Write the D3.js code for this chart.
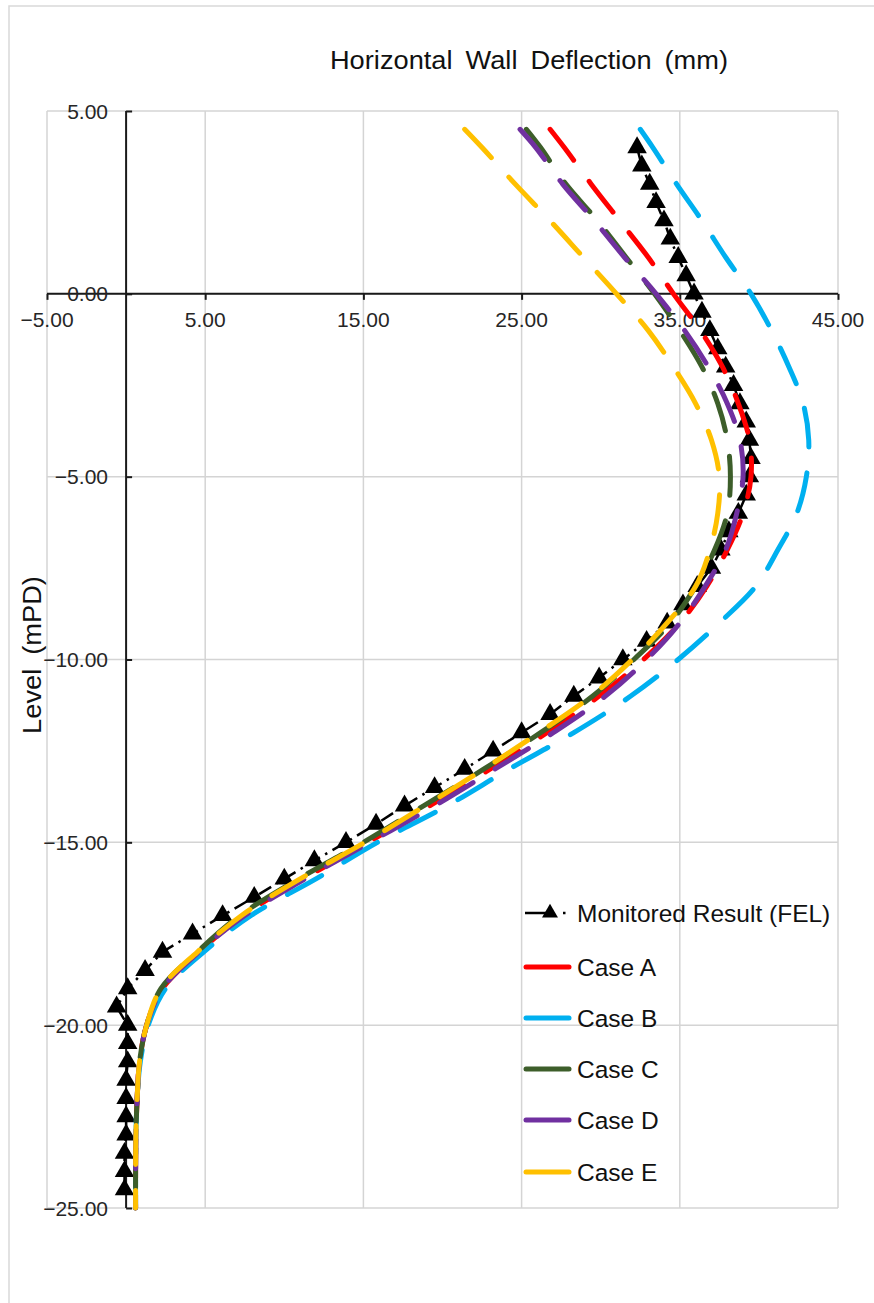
<!DOCTYPE html>
<html>
<head>
<meta charset="utf-8">
<script src="https://cdn.jsdelivr.net/npm/d3@7"></script>
<style>
  html, body { margin: 0; padding: 0; background: #fff; }
  svg { display: block; font-family: "Liberation Sans", Arial, sans-serif; }
</style>
</head>
<body>
<svg id="chart" width="874" height="1303"></svg>
<script>
// Horizontal wall deflection (mm) against level (mPD)

// Tick values
const xTicks = [-5, 5, 15, 25, 35, 45];
const yTicks = [5, 0, -5, -10, -15, -20, -25];

// Monitored readings, every 0.5 m
const monitoredLevel = [4.0, 3.5, 3.0, 2.5, 2.0, 1.5, 1.0, 0.5, 0.0,
  -0.5, -1.0, -1.5, -2.0, -2.5, -3.0, -3.5, -4.0, -4.5, -5.0, -5.5, -6.0, -6.5, -7.0, -7.5, -8.0, -8.5, -9.0,
  -9.5, -10.0, -10.5, -11.0, -11.5, -12.0, -12.5, -13.0, -13.5, -14.0, -14.5, -15.0, -15.5, -16.0, -16.5,
  -17.0, -17.5, -18.0, -18.5, -19.0, -19.5,
  -20.0, -20.5, -21.0, -21.5, -22.0, -22.5, -23.0, -23.5, -24.0, -24.5];
const monitoredValue = [32.3, 32.6, 33.1, 33.5, 34.0, 34.4, 34.9, 35.4, 35.9,
  36.4, 36.9, 37.4, 37.9, 38.4, 38.8, 39.2, 39.4, 39.5, 39.4, 39.2, 38.7, 38.1, 37.6, 37.0, 36.1, 35.2, 34.2,
  32.9, 31.4, 29.9, 28.3, 26.8, 25.0, 23.2, 21.4, 19.5, 17.6, 15.8, 13.9, 11.9, 10.0, 8.1,
  6.1, 4.2, 2.3, 1.2, 0.1, -0.6,
  0.1, 0.1, 0.1, 0.0, 0.0, 0.0, 0.0, -0.1, -0.1, -0.1];

// Computed cases
const caseLevel = [4.5, 4, 3, 2, 1, 0, -1, -2, -3, -4, -5, -6, -7, -8, -9, -10, -11, -12,
  -13, -14, -15, -16, -17, -18, -19, -20, -21, -22, -23, -24, -25];
const caseA = [26.8, 27.7, 29.4, 31.2, 33.0, 34.6, 36.3, 37.7, 38.7, 39.4, 39.5, 39.0, 38.0, 36.7, 35.0, 32.7, 29.9, 26.6,
  23.0, 19.2, 15.3, 11.2, 7.4, 4.6, 2.3, 1.3, 0.85, 0.7, 0.62, 0.6, 0.6];
const caseB = [32.5, 33.3, 34.8, 36.4, 37.9, 39.5, 40.8, 41.9, 42.8, 43.15, 43.0, 42.4, 41.2, 39.8, 37.5, 34.9, 31.9, 28.3,
  24.2, 20.3, 15.9, 12.0, 7.9, 4.9, 2.5, 1.4, 0.9, 0.7, 0.62, 0.6, 0.6];
const caseC = [25.3, 26.2, 27.8, 29.8, 31.6, 33.4, 35.0, 36.4, 37.4, 38.0, 38.2, 38.0, 37.2, 36.0, 34.4, 32.1, 29.5, 26.2,
  22.6, 18.8, 15.0, 10.9, 7.2, 4.5, 2.2, 1.3, 0.85, 0.7, 0.62, 0.6, 0.6];
const caseD = [24.9, 25.9, 27.6, 29.6, 31.5, 33.5, 35.3, 36.8, 38.0, 38.8, 39.0, 38.6, 37.9, 36.6, 35.0, 32.9, 30.3, 27.0,
  23.3, 19.5, 15.4, 11.3, 7.5, 4.6, 2.3, 1.3, 0.85, 0.7, 0.62, 0.6, 0.6];
const caseE = [21.4, 22.5, 24.6, 26.8, 28.9, 31.0, 33.0, 34.6, 36.0, 37.0, 37.5, 37.4, 36.9, 36.0, 34.2, 32.0, 29.4, 26.1,
  22.6, 18.9, 15.1, 11.0, 7.3, 4.5, 2.2, 1.3, 0.85, 0.7, 0.62, 0.6, 0.6];

const caseNames = ["Case A", "Case B", "Case C", "Case D", "Case E"];
const caseValues = [caseA, caseB, caseC, caseD, caseE];
const caseColors = ["#ff0000", "#00b0f0", "#3d5e2a", "#7030a0", "#ffc000"];

const svg = d3.select("#chart");

// Chart frame
svg.append("rect")
  .attr("x", 9).attr("y", 6).attr("width", 900).attr("height", 1320)
  .attr("fill", "#fff").attr("stroke", "#d9d9d9").attr("stroke-width", 1.5);

const x = d3.scaleLinear().domain([-5, 45]).range([47, 838]);
const y = d3.scaleLinear().domain([-25, 5]).range([1208, 111]);

// Gridlines
const grid = svg.append("g").attr("stroke", "#d4d4d4").attr("stroke-width", 1.5);
grid.selectAll("line.gx").data(xTicks).join("line")
  .attr("x1", d => x(d)).attr("x2", d => x(d))
  .attr("y1", y(5)).attr("y2", y(-25));
grid.selectAll("line.gy").data(yTicks).join("line")
  .attr("x1", x(-5)).attr("x2", x(45))
  .attr("y1", d => y(d)).attr("y2", d => y(d));

// Axes crossing at the origin
const xAxis = d3.axisBottom(x).tickValues(xTicks).tickSize(6).tickFormat("");
const yAxis = d3.axisRight(y).tickValues(yTicks).tickSize(6).tickFormat("");
const gx = svg.append("g").attr("transform", `translate(0,${y(0)})`).call(xAxis);
const gy = svg.append("g").attr("transform", `translate(${x(0)},0)`).call(yAxis);
[gx, gy].forEach(g => {
  g.select(".domain").attr("stroke", "#1a1a1a").attr("stroke-width", 2);
  g.selectAll(".tick line").attr("stroke", "#1a1a1a").attr("stroke-width", 2);
});
gx.select(".domain").attr("d", `M${x(-5)},0H${x(45)}`);
gy.select(".domain").attr("d", `M0,${y(5)}V${y(-25)}`);

// Tick labels
const fmt = d3.format(".2f");
svg.append("g").selectAll("text").data(xTicks).join("text")
  .attr("x", d => x(d)).attr("y", y(0) + 33)
  .attr("text-anchor", "middle")
  .attr("font-size", 21).attr("fill", "#262626")
  .text(d => fmt(d));
svg.append("g").selectAll("text").data(yTicks).join("text")
  .attr("x", 108).attr("y", d => y(d))
  .attr("text-anchor", "end").attr("dominant-baseline", "central")
  .attr("font-size", 21).attr("fill", "#262626")
  .text(d => fmt(d));

// Titles
svg.append("g").attr("transform", "translate(529,69) scale(1.09,1)")
  .append("text")
  .attr("text-anchor", "middle").attr("font-size", 25).attr("word-spacing", 5)
  .attr("fill", "#111")
  .text("Horizontal Wall Deflection (mm)");
svg.append("g").attr("transform", "translate(41,655) rotate(-90) scale(1.09,1)")
  .append("text")
  .attr("text-anchor", "middle").attr("font-size", 25).attr("word-spacing", 6)
  .attr("fill", "#111")
  .text("Level (mPD)");

// Monitored result
const monitored = monitoredLevel.map((lv, i) => ({ lv, v: monitoredValue[i] }));
const mLine = d3.line().x(d => x(d.v)).y(d => y(d.lv));
const dashDot = "14,6,2.5,6";
svg.append("path").datum(monitored)
  .attr("d", mLine)
  .attr("fill", "none").attr("stroke", "#000").attr("stroke-width", 2.5)
  .attr("stroke-dasharray", dashDot);
const tri = d3.symbol().type(d3.symbolTriangle).size(165);
svg.append("g").selectAll("path").data(monitored).join("path")
  .attr("transform", d => `translate(${x(d.v)},${y(d.lv)})`)
  .attr("d", tri).attr("fill", "#000");

// Cases
const cLine = d3.line().curve(d3.curveCatmullRom.alpha(0.5))
  .x(d => x(d.v)).y(d => y(d.lv));
caseValues.forEach((vals, k) => {
  const pts = caseLevel.map((lv, i) => ({ lv, v: vals[i] }));
  svg.append("path").datum(pts)
    .attr("d", cLine)
    .attr("fill", "none").attr("stroke", caseColors[k]).attr("stroke-width", 5)
    .attr("stroke-linecap", "round")
    .attr("stroke-dasharray", "39,26");
});

// Legend
const lg = svg.append("g");
const rowY = [913, 967, 1018, 1069, 1120, 1172];
lg.append("line").attr("x1", 525).attr("x2", 571).attr("y1", rowY[0]).attr("y2", rowY[0])
  .attr("stroke", "#000").attr("stroke-width", 2.5).attr("stroke-dasharray", "22,16,2.5,6");
lg.append("path").attr("transform", `translate(550,${rowY[0]})`)
  .attr("d", d3.symbol().type(d3.symbolTriangle).size(110)).attr("fill", "#000");
lg.append("text").attr("x", 577).attr("y", rowY[0]).attr("dominant-baseline", "central")
  .attr("font-size", 24.5).attr("fill", "#111").text("Monitored Result (FEL)");
caseNames.forEach((name, k) => {
  const yy = rowY[k + 1];
  lg.append("line").attr("x1", 526).attr("x2", 569).attr("y1", yy).attr("y2", yy)
    .attr("stroke", caseColors[k]).attr("stroke-width", 5).attr("stroke-linecap", "round");
  lg.append("text").attr("x", 577).attr("y", yy).attr("dominant-baseline", "central")
    .attr("font-size", 24.5).attr("fill", "#111").text(name);
});
</script>
</body>
</html>
